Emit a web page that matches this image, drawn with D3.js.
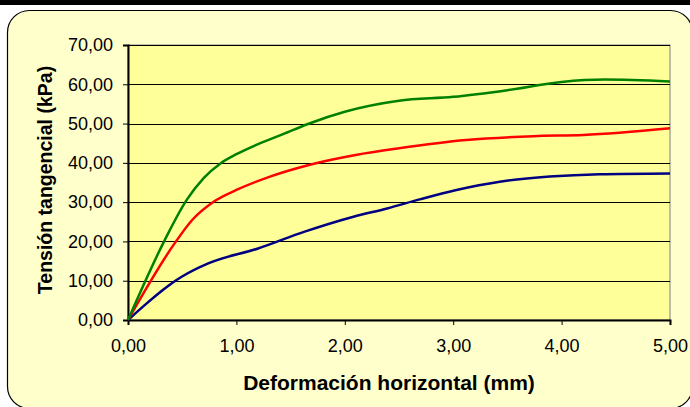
<!DOCTYPE html>
<html>
<head>
<meta charset="utf-8">
<script src="https://cdn.jsdelivr.net/npm/d3@7"></script>
<style>
  body { margin: 0; background: #ffffff; }
  text { font-family: "Liberation Sans", Arial, sans-serif; fill: #000; }
</style>
</head>
<body>
<div id="chart"></div>
<script>
// values (deformacion in mm, tension in kPa)
var greenX = [0, 0.34, 0.54, 0.7, 0.85, 1.0, 1.22, 1.43, 1.66, 2.0, 2.5, 3.0, 3.5, 4.0, 4.4, 5.0];
var greenY = [0, 20.4, 30.5, 36.2, 39.8, 42.2, 45, 47.3, 49.9, 53, 55.8, 56.8, 58.5, 60.6, 61.2, 60.7];
var redX = [0, 0.43, 0.59, 0.79, 1.0, 1.31, 1.66, 2.1, 2.5, 3.12, 3.74, 4.2, 5.0];
var redY = [0, 19.5, 25.4, 30.1, 33.1, 36.5, 39.4, 42, 43.7, 45.8, 46.8, 47.1, 48.8];
var blueX = [0, 0.495, 0.74, 1.2, 1.63, 2.08, 2.39, 2.69, 3.03, 3.43, 3.89, 4.35, 5.0];
var blueY = [0, 11, 14.4, 18.2, 22.5, 26.3, 28.4, 30.7, 33.1, 35.2, 36.5, 37.1, 37.3];
var yTicks = [0, 10, 20, 30, 40, 50, 60, 70];
var xTicks = [0, 1, 2, 3, 4, 5];

var W = 690, H = 407;
var margin = {top: 45, right: 20, bottom: 87, left: 128},
    width = 670 - margin.left,
    height = 320 - margin.top;

var svg = d3.select("#chart").append("svg")
    .attr("width", W)
    .attr("height", H);

// black band at top + rounded chart box
svg.append("rect").attr("x", 0).attr("y", 0).attr("width", W).attr("height", 5).attr("fill", "#000");
svg.append("rect")
    .attr("x", 7.5).attr("y", 10.5)
    .attr("width", 685).attr("height", 398)
    .attr("rx", 22).attr("ry", 22)
    .attr("fill", "#FFFFCC")
    .attr("stroke", "#000").attr("stroke-width", 1.2);

var g = svg.append("g")
    .attr("transform", "translate(" + margin.left + "," + margin.top + ")");

var x = d3.scaleLinear().domain([0, 5]).range([0, width]);
var y = d3.scaleLinear().domain([0, 70]).range([height, 0]);

g.append("rect")
    .attr("width", width).attr("height", height)
    .attr("fill", "#FFFF99")
    .attr("stroke", "#808080").attr("stroke-width", 1);

// gridlines
g.selectAll(".grid")
    .data(yTicks.slice(1))
    .enter().append("line")
    .attr("x1", 0).attr("x2", width)
    .attr("y1", function (d) { return Math.round(y(d)) + 0.5; })
    .attr("y2", function (d) { return Math.round(y(d)) + 0.5; })
    .attr("stroke", "#000").attr("stroke-width", 1);

var fmt = function (d) { return d3.format(".2f")(d).replace(".", ","); };

var yAxis = g.append("g")
    .call(d3.axisLeft(y).tickValues(yTicks).tickSize(5).tickPadding(10).tickFormat(fmt));
var xAxis = g.append("g")
    .attr("transform", "translate(0," + height + ")")
    .call(d3.axisBottom(x).tickValues(xTicks).tickSize(5).tickPadding(14).tickFormat(fmt));

[yAxis, xAxis].forEach(function (a) {
    a.select(".domain").attr("stroke", "#000").attr("stroke-width", 2);
    a.selectAll(".tick line").attr("stroke", "#000");
    a.selectAll("text").style("font-size", "18px").attr("fill", "#000");
});

var line = d3.line()
    .x(function (d) { return x(d[0]); })
    .y(function (d) { return y(d[1]); })
    .curve(d3.curveMonotoneX);

var series = [
    {xs: blueX, ys: blueY, color: "#000080"},
    {xs: redX, ys: redY, color: "#FF0000"},
    {xs: greenX, ys: greenY, color: "#008000"}
];

series.forEach(function (s) {
    var pts = s.xs.map(function (v, i) { return [v, s.ys[i]]; });
    g.append("path")
        .datum(pts)
        .attr("d", line)
        .attr("fill", "none")
        .attr("stroke", s.color)
        .attr("stroke-width", 2.5);
});

// axis titles
svg.append("text")
    .attr("x", 389).attr("y", 390)
    .attr("text-anchor", "middle")
    .style("font-size", "21px").style("font-weight", "bold")
    .text("Deformación horizontal (mm)");

svg.append("text")
    .attr("transform", "translate(52,180) rotate(-90)")
    .attr("text-anchor", "middle")
    .style("font-size", "19.5px").style("font-weight", "bold")
    .text("Tensión tangencial (kPa)");
</script>
</body>
</html>
